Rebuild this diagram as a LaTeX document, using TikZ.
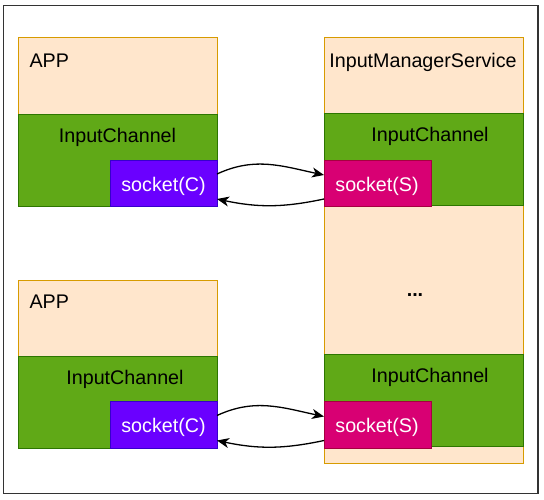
\documentclass[tikz,border=0pt]{standalone}
\usepackage{fontspec}
\setmainfont{Liberation Sans}
\usetikzlibrary{arrows.meta}
\definecolor{peachfill}{HTML}{FFE6CC}
\definecolor{peachline}{HTML}{D79B00}
\definecolor{greenfill}{HTML}{60A917}
\definecolor{greenline}{HTML}{2D7600}
\definecolor{purplefill}{HTML}{6A00FF}
\definecolor{purpleline}{HTML}{3700CC}
\definecolor{pinkfill}{HTML}{D80073}
\definecolor{pinkline}{HTML}{A50040}
\definecolor{framecol}{HTML}{333333}
\tikzset{
  boxbase/.style={rectangle, inner sep=0pt, outer sep=0pt, line width=1pt, anchor=north west},
  peachbox/.style={boxbase, fill=peachfill, draw=peachline},
  greenbox/.style={boxbase, fill=greenfill, draw=greenline},
  cbox/.style={boxbase, fill=purplefill, draw=purpleline},
  sbox/.style={boxbase, fill=pinkfill, draw=pinkline},
  lbl/.style={inner sep=0pt, outer sep=0pt, font=\fontsize{19.7}{23}\selectfont, text=black},
  wlbl/.style={lbl, text=white},
  link/.style={line width=1.3pt, black, -{Stealth[length=12pt, width=10pt, inset=3.5pt]}}
}
\begin{document}
\begin{tikzpicture}[x=1pt, y=-1pt]
\useasboundingbox (0,0) rectangle (544,499);
\node[boxbase, draw=framecol, line width=1.5pt, minimum width=534.5pt, minimum height=488pt] (frame) at (3.5,5.5) {};

% APP 1
\node[peachbox, minimum width=199pt, minimum height=169pt] (app1) at (18,37) {};
\node[greenbox, minimum width=199pt, minimum height=92pt] (ch1) at (18,114) {};
\node[cbox, minimum width=107pt, minimum height=46pt] (sc1) at (110,160) {};
\node[lbl, anchor=base west] (app1t) at (29.5,67.5) {APP};
\node[lbl, anchor=base] (ch1t) at (117.5,142) {InputChannel};
\node[wlbl, anchor=base] (sc1t) at (163.5,191.5) {socket(C)};

% APP 2
\node[peachbox, minimum width=199pt, minimum height=168pt] (app2) at (18,280) {};
\node[greenbox, minimum width=199pt, minimum height=92pt] (ch2) at (18,356) {};
\node[cbox, minimum width=107pt, minimum height=47pt] (sc2) at (110,401) {};
\node[lbl, anchor=base west] (app2t) at (29.5,308) {APP};
\node[lbl, anchor=base] (ch2t) at (125,384) {InputChannel};
\node[wlbl, anchor=base] (sc2t) at (163.5,432) {socket(C)};

% InputManagerService
\node[peachbox, minimum width=199pt, minimum height=426pt] (ims) at (324,37) {};
\node[greenbox, minimum width=199pt, minimum height=92pt] (ch3) at (324,113) {};
\node[sbox, minimum width=107pt, minimum height=46pt] (ss1) at (324,160) {};
\node[greenbox, minimum width=199pt, minimum height=92pt] (ch4) at (324,354) {};
\node[sbox, minimum width=107pt, minimum height=47pt] (ss2) at (324,401) {};
\node[lbl, anchor=base] (imst) at (423,67.5) {InputManagerService};
\node[lbl, anchor=base] (ch3t) at (430,141.5) {InputChannel};
\node[lbl, anchor=base] (ch4t) at (430,382.5) {InputChannel};
\node[wlbl, anchor=base] (ss1t) at (377,191.5) {socket(S)};
\node[wlbl, anchor=base] (ss2t) at (377,432) {socket(S)};
\node[lbl, anchor=base] (dots) at (415,296.5) {\textbf{...}};

% connectors
\draw[link] ([yshift=9pt]sc1.east) to[out=25, in=168] ([yshift=8pt]ss1.west);
\draw[link] ([yshift=-16pt]ss1.west) to[out=192, in=-12] ([yshift=-16pt]sc1.east);
\draw[link] ([yshift=9pt]sc2.east) to[out=25, in=168] ([yshift=8pt]ss2.west);
\draw[link] ([yshift=-16pt]ss2.west) to[out=192, in=-12] ([yshift=-16pt]sc2.east);
\end{tikzpicture}
\end{document}
